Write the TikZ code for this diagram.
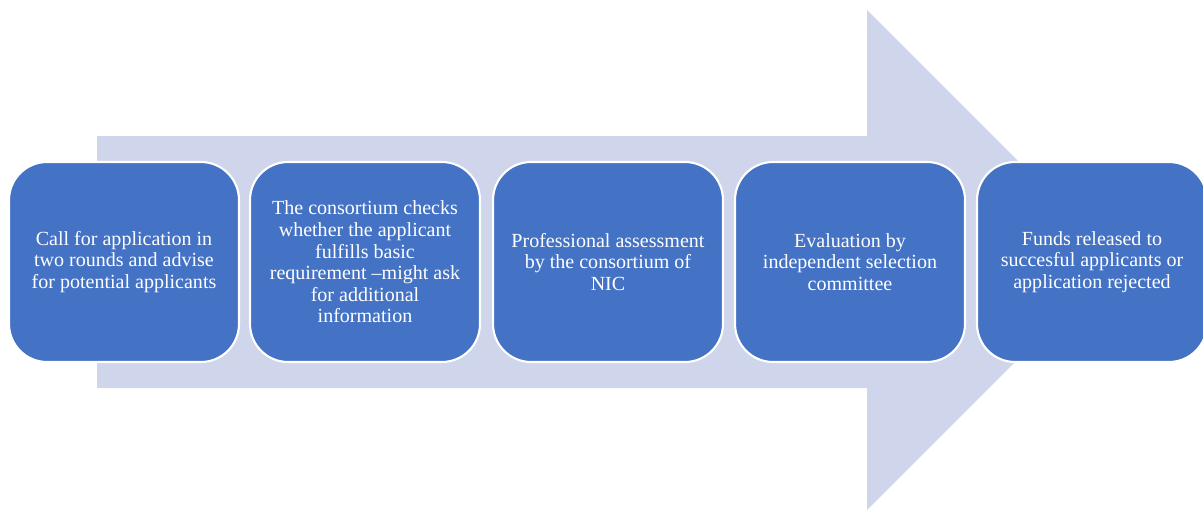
\documentclass[tikz,border=0pt]{standalone}
\usepackage{fontspec}
\setmainfont{Liberation Serif}
\definecolor{stepblue}{HTML}{4472C4}
\definecolor{arrowgrey}{HTML}{CFD5EA}
\begin{document}
\begin{tikzpicture}[x=0.02cm,y=-0.02cm,
    stepbox/.style={draw=white,line width=1.2pt,fill=stepblue,rounded corners=0.76cm,
        minimum width=4.6cm,minimum height=4cm,inner sep=0pt,text=white,align=center,
        font=\fontsize{11.4pt}{12.3pt}\selectfont}]
                \useasboundingbox (0,0) rectangle (1203,510);
                \clip (0,0) rectangle (1203,510);
                \fill[arrowgrey] (97,136) -- (867,136) -- (867,10) -- (1117,260) -- (867,510) -- (867,388) -- (97,388) -- cycle;

                \node[stepbox] (call) at (124,262) {Call for application in\\two rounds and advise\\for potential applicants};
                \node[stepbox] (check) at (365,262) {The consortium checks\\whether the applicant\\fulfills basic\\requirement --might ask\\for additional\\information};
                \node[stepbox] (assess) at (608,262) {Professional assessment\\by the consortium of\\NIC};
                \node[stepbox] (eval) at (850,262) {Evaluation by\\independent selection\\committee};
                \node[stepbox] (funds) at (1092,262) {Funds released to\\succesful applicants or\\application rejected};
            \end{tikzpicture}
\end{document}
